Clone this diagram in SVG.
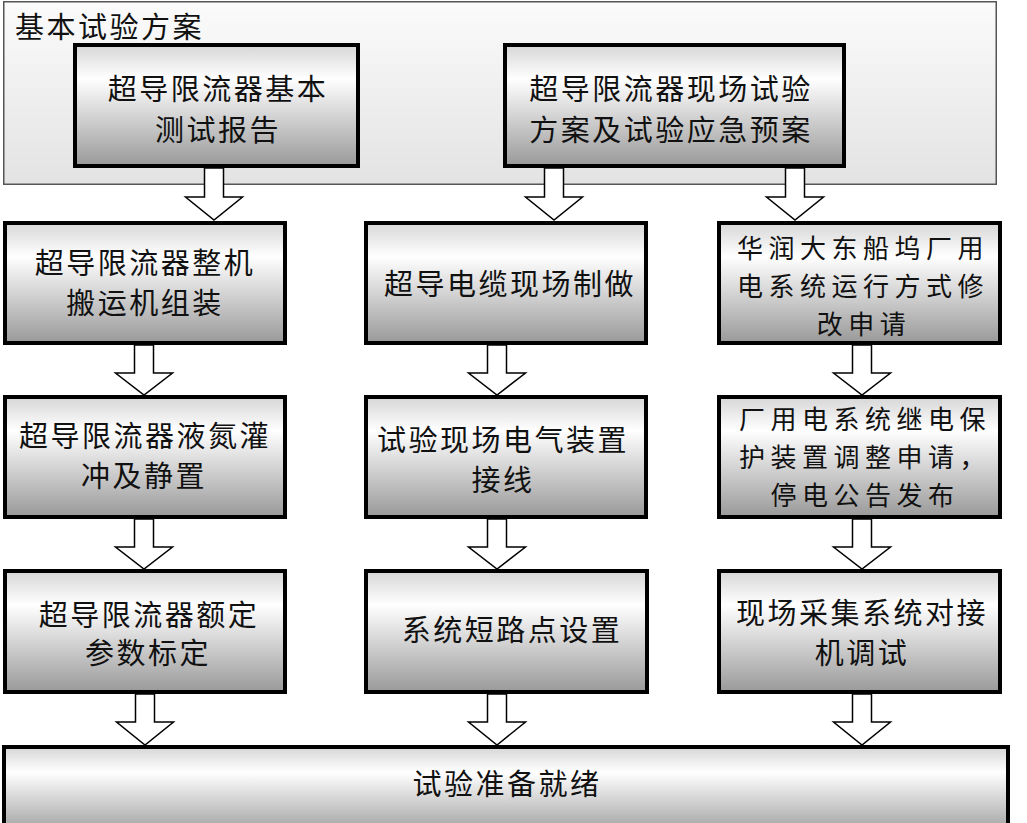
<svg xmlns="http://www.w3.org/2000/svg" width="1027" height="823" viewBox="0 0 1027 823">
  <defs>
    <linearGradient id="gBox" x1="0" y1="0" x2="0" y2="1">
      <stop offset="0" stop-color="#d6d6d6"/>
      <stop offset="0.28" stop-color="#ffffff"/>
      <stop offset="1" stop-color="#999999"/>
    </linearGradient>
    <linearGradient id="gOuter" x1="0" y1="0" x2="0" y2="1">
      <stop offset="0" stop-color="#fbfbfb"/>
      <stop offset="1" stop-color="#e3e3e3"/>
    </linearGradient>
    <style>
      .box { fill: url(#gBox); stroke: #000; stroke-width: 4; }
      .outer { fill: url(#gOuter); stroke: #555; stroke-width: 1.5; }
      .arr { fill: #fff; stroke: #000; stroke-width: 1.5; stroke-linejoin: miter; }
      text { font-family: "Noto Sans CJK SC", "Noto Sans CJK JP", sans-serif; font-size: 29px; letter-spacing: 2.5px; fill: #111; }
      .c { text-anchor: middle; }
      .t3 { font-size: 26px; letter-spacing: 5.5px; }
    </style>
  </defs>
  <rect width="1027" height="823" fill="#fff"/>

  <g id="group-basic">
    <rect class="outer" x="3.75" y="1.75" width="992.5" height="182.5"/>
    <text x="15" y="38">基本试验方案</text>
  </g>

  <g id="connectors">
    <polygon class="arr" points="204.5,168 223.5,168 223.5,197 242.5,197 214,220 185.5,197 204.5,197"/>
    <polygon class="arr" points="544.5,168 563.5,168 563.5,197 582.5,197 554,220 525.5,197 544.5,197"/>
    <polygon class="arr" points="785.5,168 804.5,168 804.5,197 823.5,197 795,220 766.5,197 785.5,197"/>

    <polygon class="arr" points="134.5,345 153.5,345 153.5,373 172.5,373 144,395 115.5,373 134.5,373"/>
    <polygon class="arr" points="487.5,345 506.5,345 506.5,373 525.5,373 497,395 468.5,373 487.5,373"/>
    <polygon class="arr" points="852.5,345 871.5,345 871.5,373 890.5,373 862,395 833.5,373 852.5,373"/>

    <polygon class="arr" points="134.5,519 153.5,519 153.5,547 172.5,547 144,569 115.5,547 134.5,547"/>
    <polygon class="arr" points="487.5,519 506.5,519 506.5,547 525.5,547 497,569 468.5,547 487.5,547"/>
    <polygon class="arr" points="852.5,519 871.5,519 871.5,547 890.5,547 862,569 833.5,547 852.5,547"/>

    <polygon class="arr" points="135.5,694 154.5,694 154.5,722 173.5,722 145,745 116.5,722 135.5,722"/>
    <polygon class="arr" points="487.5,694 506.5,694 506.5,722 525.5,722 497,745 468.5,722 487.5,722"/>
    <polygon class="arr" points="852.5,694 871.5,694 871.5,722 890.5,722 862,745 833.5,722 852.5,722"/>
  </g>

  <g id="node-basic-report">
    <rect class="box" x="75" y="45" width="283" height="121"/>
    <text class="c"><tspan x="218" y="100">超导限流器基本</tspan><tspan x="218" y="141">测试报告</tspan></text>
  </g>

  <g id="node-field-plan">
    <rect class="box" x="505" y="45" width="339" height="121"/>
    <text class="c"><tspan x="671" y="100">超导限流器现场试验</tspan><tspan x="671" y="141">方案及试验应急预案</tspan></text>
  </g>

  <g id="node-transport">
    <rect class="box" x="5" y="223" width="280" height="120"/>
    <text class="c"><tspan x="145" y="274">超导限流器整机</tspan><tspan x="145" y="314">搬运机组装</tspan></text>
  </g>

  <g id="node-cable">
    <rect class="box" x="366" y="223" width="280" height="120"/>
    <text class="c" x="510" y="295">超导电缆现场制做</text>
  </g>

  <g id="node-operation">
    <rect class="box" x="719" y="223" width="281" height="120"/>
    <text class="c t3"><tspan x="863" y="258">华润大东船坞厂用</tspan><tspan x="863" y="296">电系统运行方式修</tspan><tspan x="864" y="334">改申请</tspan></text>
  </g>

  <g id="node-ln2">
    <rect class="box" x="5" y="397" width="280" height="120"/>
    <text class="c"><tspan x="145" y="447">超导限流器液氮灌</tspan><tspan x="144" y="487">冲及静置</tspan></text>
  </g>

  <g id="node-wiring">
    <rect class="box" x="366" y="397" width="280" height="120"/>
    <text class="c"><tspan x="503" y="451">试验现场电气装置</tspan><tspan x="503" y="491">接线</tspan></text>
  </g>

  <g id="node-relay">
    <rect class="box" x="719" y="397" width="281" height="120"/>
    <text class="c t3"><tspan x="865" y="429">厂用电系统继电保</tspan><tspan x="865" y="467">护装置调整申请，</tspan><tspan x="865" y="505">停电公告发布</tspan></text>
  </g>

  <g id="node-calibration">
    <rect class="box" x="5" y="571" width="280" height="121"/>
    <text class="c"><tspan x="149" y="626">超导限流器额定</tspan><tspan x="148" y="664">参数标定</tspan></text>
  </g>

  <g id="node-shortcircuit">
    <rect class="box" x="366" y="571" width="281" height="121"/>
    <text class="c" x="512" y="641">系统短路点设置</text>
  </g>

  <g id="node-acquisition">
    <rect class="box" x="719" y="571" width="281" height="121"/>
    <text class="c"><tspan x="862" y="624">现场采集系统对接</tspan><tspan x="862" y="664">机调试</tspan></text>
  </g>

  <g id="node-ready">
    <rect class="box" x="4" y="747" width="1004" height="90"/>
    <text class="c" x="507" y="795">试验准备就绪</text>
  </g>
</svg>
